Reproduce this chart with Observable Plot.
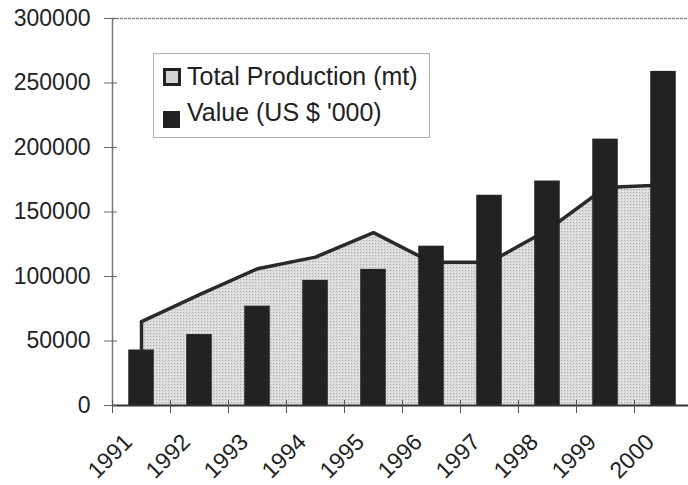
<!DOCTYPE html>
<html>
<head>
<meta charset="utf-8">
<script src="https://cdn.jsdelivr.net/npm/d3@7"></script>
<script src="https://cdn.jsdelivr.net/npm/@observablehq/plot@0.6"></script>
<style>
  html, body { margin: 0; padding: 0; background: #fff; overflow: hidden; }
  #wrap { position: relative; width: 688px; height: 485px; overflow: hidden; background: #fff; }
  #defs { position: absolute; width: 0; height: 0; }
  .legend {
    position: absolute; left: 153px; top: 53px; width: 277px; height: 85px;
    border: 1px solid #b0b0b0; box-sizing: border-box; background: #fff;
    font-family: "Liberation Sans", Arial, sans-serif; font-size: 25px; color: #222;
  }
  .legend .item { position: absolute; left: 33px; line-height: 25px; white-space: nowrap; }
  .legend .sw { position: absolute; left: 9px; box-sizing: border-box; }
</style>
</head>
<body>
<div id="wrap">
  <svg id="defs" width="0" height="0">
    <defs>
      <pattern id="dots" width="3" height="3" patternUnits="userSpaceOnUse">
        <rect width="3" height="3" fill="#dadada"></rect>
        <rect x="0" y="0" width="1" height="1" fill="#a9a9a9"></rect>
        <rect x="2" y="2" width="1" height="1" fill="#f0f0f0"></rect>
      </pattern>
    </defs>
  </svg>
  <div id="chart"></div>
  <div class="legend">
    <div class="sw" style="top:14px;width:18px;height:18px;border:3px solid #222;background-color:#d4d4d4;"></div>
    <div class="item" id="leg1" style="top:10px;"></div>
    <div class="sw" style="top:57px;width:17px;height:17px;background:#222;"></div>
    <div class="item" id="leg2" style="top:46px;"></div>
  </div>
</div>
<script>
// ---- data ----
const years = [1991, 1992, 1993, 1994, 1995, 1996, 1997, 1998, 1999, 2000];
const production = [65000, 86000, 106000, 115000, 134000, 111000, 111000, 136000, 169000, 171000];
const value = [43000, 55000, 77000, 97000, 105500, 123500, 163000, 174000, 206500, 259000];
const yTicks = [0, 50000, 100000, 150000, 200000, 250000, 300000];
const seriesNames = ["Total Production (mt)", "Value (US $ '000)"];

document.getElementById("leg1").textContent = seriesNames[0];
document.getElementById("leg2").textContent = seriesNames[1];

const data = years.map((year, i) => ({year, production: production[i], value: value[i]}));
// category boundaries (tick marks sit between categories)
const bounds = years.map(y => y - 0.5).concat([years[years.length - 1] + 0.5]);
const half = 0.22;

const chart = Plot.plot({
  width: 688,
  height: 485,
  marginLeft: 112,
  marginTop: 18,
  marginBottom: 80,
  marginRight: 0,
  style: {background: "transparent", fontFamily: "Liberation Sans, Arial, sans-serif", color: "#222"},
  x: {type: "linear", domain: [bounds[0], bounds[bounds.length - 1]], range: [112, 692], axis: null},
  y: {domain: [0, 300000], axis: null},
  marks: [
    Plot.areaY(data, {x: "year", y: "production", fill: "url(#dots)"}),
    Plot.lineY(data, {x: "year", y: "production", stroke: "#2a2a2a", strokeWidth: 3.5, strokeLinejoin: "miter"}),
    Plot.ruleX(data.slice(0, 1), {x: "year", y1: 0, y2: "production", stroke: "#2a2a2a", strokeWidth: 3.5}),
    Plot.rectY(data, {x1: d => d.year - half, x2: d => d.year + half, y1: 0, y2: "value", fill: "#222"}),
    Plot.ruleY([300000], {stroke: "#8a8a8a", strokeWidth: 1.3, strokeDasharray: "3,1"}),
    Plot.ruleX([bounds[0]], {y1: 0, y2: 300000, stroke: "#777", strokeWidth: 1.5}),
    Plot.ruleY([0], {stroke: "#333", strokeWidth: 2}),
    Plot.axisY({ticks: yTicks, anchor: "left", label: null, tickSize: 8, tickPadding: 14, tickFormat: d => String(d), fontSize: 23, stroke: "#666"}),
    Plot.axisY({ticks: yTicks, anchor: "left", label: null, tickSize: -5, tickFormat: () => "", stroke: "#666"}),
    Plot.axisX({ticks: bounds, anchor: "bottom", label: null, tickSize: 8, tickFormat: () => "", stroke: "#555"}),
    Plot.axisX({ticks: bounds, anchor: "bottom", label: null, tickSize: -5, tickFormat: () => "", stroke: "#555"}),
    Plot.text(data, {x: "year", frameAnchor: "bottom", text: d => String(d.year), rotate: -45, textAnchor: "end", dx: -8, dy: 38, fontSize: 23, fill: "#222"})
  ]
});
document.getElementById("chart").appendChild(chart);
</script>
</body>
</html>
